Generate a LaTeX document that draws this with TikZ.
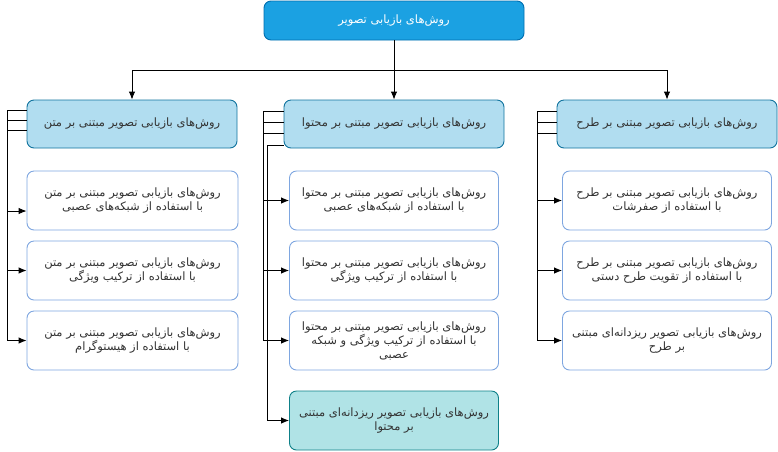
\documentclass[tikz,border=0pt]{standalone}
\usepackage{fontspec}
\usepackage{tikz}
\usetikzlibrary{arrows.meta,positioning}
\TeXXeTstate=1
\newfontfamily\fafont[Script=Arabic]{DejaVu Sans}
\newcommand{\fatxt}[1]{{\fafont\beginR #1\endR}}
\definecolor{rootfill}{HTML}{1BA1E2}
\definecolor{rootline}{HTML}{006EAF}
\definecolor{catfill}{HTML}{B1DDF0}
\definecolor{catline}{HTML}{10739E}
\definecolor{leafline}{HTML}{7EA6E0}
\definecolor{tealfill}{HTML}{B0E3E6}
\definecolor{tealline}{HTML}{0E8088}
\definecolor{txtgray}{HTML}{333333}

\begin{document}
\begin{tikzpicture}[x=1pt,y=-1pt,>={Latex[length=8pt,width=6.5pt]},line width=0.9pt]%
            \useasboundingbox (0,0) rectangle (778,451);
            \begin{scope}[align=center,rounded corners=7pt,inner sep=2pt,text=txtgray,font=\fontsize{11.5}{14}\selectfont]%
            \tikzstyle{rootbox}=[draw=rootline,fill=rootfill,text=white,minimum width=260pt,minimum height=39pt] %%
            \tikzstyle{catbox}=[draw=catline,fill=catfill,minimum height=48pt] %%
            \tikzstyle{leafbox}=[draw=leafline,fill=white,minimum width=209pt,minimum height=59pt] %%
            \tikzstyle{finebox}=[draw=tealline,fill=tealfill,minimum width=209pt,minimum height=59pt] %%
            \node[rootbox] (root) at (394,20.5) {\fatxt{روش‌های بازیابی تصویر}}; %%
            %% categories
            \node[catbox,minimum width=210pt] (mL) at (132,124) {\fatxt{روش‌های بازیابی تصویر مبتنی بر متن}}; %%
            \node[catbox,minimum width=220pt] (mM) at (394,124) {\fatxt{روش‌های بازیابی تصویر مبتنی بر محتوا}}; %%
            \node[catbox,minimum width=220pt] (mR) at (667,124) {\fatxt{روش‌های بازیابی تصویر مبتنی بر طرح}}; %%
            %% text based
            \node[leafbox,minimum width=211pt] (cL1) at (132.5,200.5) {\fatxt{روش‌های بازیابی تصویر مبتنی بر متن}\\\fatxt{با استفاده از شبکه‌های عصبی}}; %%
            \node[leafbox,minimum width=211pt] (cL2) at (132.5,270.5) {\fatxt{روش‌های بازیابی تصویر مبتنی بر متن}\\\fatxt{با استفاده از ترکیب ویژگی}}; %%
            \node[leafbox,minimum width=211pt] (cL3) at (132.5,340.5) {\fatxt{روش‌های بازیابی تصویر مبتنی بر متن}\\\fatxt{با استفاده از هیستوگرام}}; %%
            %% content based
            \node[leafbox] (cM1) at (394,200.5) {\fatxt{روش‌های بازیابی تصویر مبتنی بر محتوا}\\\fatxt{با استفاده از شبکه‌های عصبی}}; %%
            \node[leafbox] (cM2) at (394,270.5) {\fatxt{روش‌های بازیابی تصویر مبتنی بر محتوا}\\\fatxt{با استفاده از ترکیب ویژگی}}; %%
            \node[leafbox] (cM3) at (394,340.5) {\fatxt{روش‌های بازیابی تصویر مبتنی بر محتوا}\\\fatxt{با استفاده از ترکیب ویژگی و شبکه}\\\fatxt{عصبی}}; %%
            \node[finebox] (cM4) at (394,420.5) {\fatxt{روش‌های بازیابی تصویر ریزدانه‌ای مبتنی}\\\fatxt{بر محتوا}}; %%
            %% sketch based
            \node[leafbox] (cR1) at (667,200.5) {\fatxt{روش‌های بازیابی تصویر مبتنی بر طرح}\\\fatxt{با استفاده از صفرشات}}; %%
            \node[leafbox] (cR2) at (667,270.5) {\fatxt{روش‌های بازیابی تصویر مبتنی بر طرح}\\\fatxt{با استفاده از تقویت طرح دستی}}; %%
            \node[leafbox] (cR3) at (667,340.5) {\fatxt{روش‌های بازیابی تصویر ریزدانه‌ای مبتنی}\\\fatxt{بر طرح}}; %%
            \end{scope}
            \draw[->] (root.south) -- ++(0,30) -| (mL.north); %%
            \draw[->] (root.south) -- (mM.north); %%
            \draw[->] (root.south) -- ++(0,30) -| (mR.north); %%
            \draw[->] ([yshift=14pt]mL.west) -- ++(-19,0) |- ([yshift=-10.5pt]cL1.west); %%
            \draw[->] ([yshift=4pt]mL.west) -- ++(-19,0) |- (cL2.west); %%
            \draw[->] ([yshift=-6pt]mL.west) -- ++(-19,0) |- (cL3.west); %%
            \draw[->] ([yshift=12.5pt]mM.west) -- ++(-20,0) |- (cM1.west); %%
            \draw[->] ([yshift=1.5pt]mM.west) -- ++(-20,0) |- (cM2.west); %%
            \draw[->] ([yshift=-9pt]mM.west) -- ++(-20,0) |- (cM3.west); %%
            \draw[->] ([yshift=-21pt]mM.west) -- ++(-16,0) |- (cM4.west); %%
            \draw[->] ([yshift=12.5pt]mR.west) -- ++(-19,0) |- (cR1.west); %%
            \draw[->] ([yshift=1.5pt]mR.west) -- ++(-19,0) |- (cR2.west); %%
            \draw[->] ([yshift=-9pt]mR.west) -- ++(-19,0) |- (cR3.west); %%
        \end{tikzpicture}
\end{document}
